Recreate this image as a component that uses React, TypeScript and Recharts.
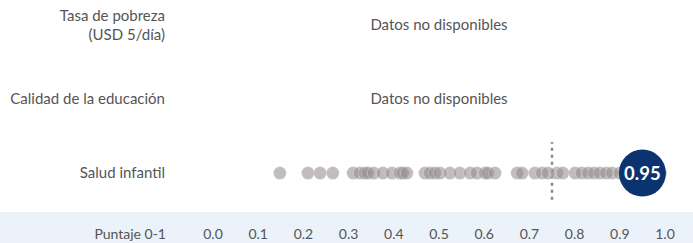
import React from "react";
import { ScatterChart, Scatter, XAxis, YAxis, ReferenceLine } from "recharts";

// rows, bottom to top (y = 0, 1, 2)
const rowLabels = [
  ["Salud infantil"],
  ["Calidad de la educación"],
  ["Tasa de pobreza", "(USD 5/día)"],
];
const xTicks = [0, 0.1, 0.2, 0.3, 0.4, 0.5, 0.6, 0.7, 0.8, 0.9, 1.0];
const axisTitle = "Puntaje 0-1";

// other countries' scores for Salud infantil
const saludScores = [
  0.148, 0.21, 0.237, 0.265, 0.31, 0.325, 0.336, 0.343, 0.356, 0.376, 0.396,
  0.414, 0.42, 0.429, 0.469, 0.48, 0.491, 0.502, 0.524, 0.546, 0.569, 0.584,
  0.602, 0.608, 0.624, 0.673, 0.684, 0.712, 0.728, 0.741, 0.761, 0.774, 0.801,
  0.816, 0.83, 0.843, 0.856, 0.87, 0.883, 0.9, 0.92, 0.99,
];
const countryScore = 0.95;
const averageScore = 0.75;
const missingRows = [1, 2];
const missingText = "Datos no disponibles";

const FONT = "Lato, 'Open Sans', sans-serif";
const TEXT = "#555";

const dots = saludScores.map((x) => ({ x, y: 0 }));
const highlight = [{ x: countryScore, y: 0 }];
const missing = missingRows.map((y) => ({ x: 0.5, y }));

const RowTick = (props: any) => {
  const { x, y, payload } = props;
  const lines = rowLabels[payload.value] || [];
  const start = -((lines.length - 1) * 19) / 2;
  return (
    <text
      x={x - 40}
      y={y}
      textAnchor="end"
      fontFamily={FONT}
      fontSize={15}
      fill={TEXT}
    >
      {lines.map((l, i) => (
        <tspan key={i} x={x - 40} y={y + start + i * 19} dy="0.35em">
          {l}
        </tspan>
      ))}
    </text>
  );
};

const ScoreTick = (props: any) => {
  const { x, y, payload } = props;
  return (
    <text
      x={x}
      y={y}
      dy={21}
      textAnchor="middle"
      fontFamily={FONT}
      fontSize={14}
      fill={TEXT}
    >
      {payload.value.toFixed(1)}
    </text>
  );
};

export default function App() {
  return (
    <div style={{ position: "relative", width: 693, height: 243 }}>
      <style>{"body{margin:0}"}</style>
      <div
        style={{
          position: "absolute",
          left: 0,
          top: 212,
          width: 693,
          height: 31,
          background: "#ebf2fa",
        }}
      />
      <div style={{ position: "absolute", left: 0, top: 0 }}>
        <ScatterChart
          width={693}
          height={243}
          margin={{ top: 3, right: 28, bottom: 0, left: 0 }}
        >
          <XAxis
            type="number"
            dataKey="x"
            domain={[0, 1]}
            ticks={xTicks}
            axisLine={false}
            tickLine={false}
            height={33}
            tick={<ScoreTick />}
            interval={0}
            label={{
              content: (p: any) => (
                <text
                  x={p.viewBox.x - 47}
                  y={p.viewBox.y + 8}
                  dy={21}
                  textAnchor="end"
                  fontFamily={FONT}
                  fontSize={14}
                  fill={TEXT}
                >
                  {axisTitle}
                </text>
              ),
            }}
          />
          <YAxis
            type="number"
            dataKey="y"
            domain={[-0.5, 2.3]}
            ticks={[0, 1, 2]}
            axisLine={false}
            tickLine={false}
            width={213}
            tick={<RowTick />}
            interval={0}
          />
          <Scatter
            data={missing}
            isAnimationActive={false}
            shape={(p: any) => (
              <text
                x={p.cx}
                y={p.cy}
                dy="0.35em"
                textAnchor="middle"
                fontFamily={FONT}
                fontSize={15}
                fill={TEXT}
              >
                {missingText}
              </text>
            )}
          />
          <Scatter
            data={dots}
            isAnimationActive={false}
            shape={(p: any) => (
              <circle
                cx={p.cx}
                cy={p.cy}
                r={6.5}
                fill="#928e8b"
                fillOpacity={0.58}
                stroke="#fff"
                strokeOpacity={0.35}
                strokeWidth={0.8}
              />
            )}
          />
          <ReferenceLine
            segment={[
              { x: averageScore, y: -0.36 },
              { x: averageScore, y: 0.42 },
            ]}
            stroke="#8a8886"
            strokeWidth={2.5}
            strokeDasharray="3 4"
          />
          <Scatter
            data={highlight}
            isAnimationActive={false}
            shape={(p: any) => (
              <g>
                <circle cx={p.cx} cy={p.cy} r={23.5} fill="#0b3370" />
                <text
                  x={p.cx}
                  y={p.cy}
                  dy="0.36em"
                  textAnchor="middle"
                  fontFamily={FONT}
                  fontSize={18.5}
                  fontWeight="bold"
                  fill="#fff"
                >
                  {p.payload.x.toFixed(2)}
                </text>
              </g>
            )}
          />
        </ScatterChart>
      </div>
    </div>
  );
}
